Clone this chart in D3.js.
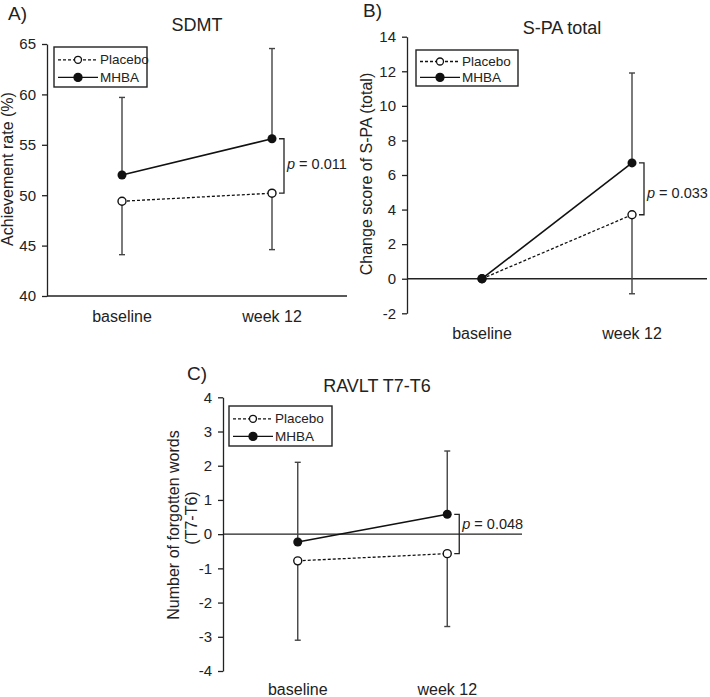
<!DOCTYPE html>
<html>
<head>
<meta charset="utf-8">
<script src="https://cdn.jsdelivr.net/npm/d3@7/dist/d3.min.js"></script>
<style>
  body { margin: 0; background: #fff; }
  svg text { font-family: "Liberation Sans", Arial, sans-serif; fill: #222; }
</style>
</head>
<body>
<div id="chart"></div>
<script>
// Time points shared by all three panels
const timepoints = ["baseline", "week 12"];
const seriesNames = ["Placebo", "MHBA"];

// A) SDMT achievement rate (%), mean and SD
const sdmtPlacebo = [49.4, 50.2];
const sdmtPlaceboSd = [5.3, 5.6];
const sdmtMhba = [52.0, 55.6];
const sdmtMhbaSd = [7.7, 8.95];
const sdmtTicks = [40, 45, 50, 55, 60, 65];

// B) S-PA total change score
const spaPlacebo = [0, 3.7];
const spaPlaceboSd = [0, 4.57];
const spaMhba = [0, 6.7];
const spaMhbaSd = [0, 5.2];
const spaTicks = [-2, 0, 2, 4, 6, 8, 10, 12, 14];

// C) RAVLT T7-T6 forgotten words
const ravltPlacebo = [-0.78, -0.57];
const ravltPlaceboSd = [2.32, 2.13];
const ravltMhba = [-0.23, 0.58];
const ravltMhbaSd = [2.33, 1.85];
const ravltTicks = [-4, -3, -2, -1, 0, 1, 2, 3, 4];

const pLabels = ["0.011", "0.033", "0.048"];

const width = 710, height = 697;

const svg = d3.select("#chart").append("svg")
    .attr("width", width)
    .attr("height", height);

// Draw one panel from a config (frame positions only, values come from arrays)
function drawPanel(cfg) {
    const g = svg.append("g");

    const x = d3.scalePoint()
        .domain(timepoints)
        .range([cfg.left, cfg.right])
        .padding(0.5);

    const y = d3.scaleLinear()
        .domain([cfg.ticks[0], cfg.ticks[cfg.ticks.length - 1]])
        .range([cfg.bottom, cfg.top]);

    // Y axis with outward ticks (plain hyphen for negatives, like the original)
    const yAxis = g.append("g")
        .attr("transform", `translate(${cfg.left},0)`)
        .call(d3.axisLeft(y).tickValues(cfg.ticks).tickSize(5).tickSizeOuter(0).tickPadding(6)
            .tickFormat(d => String(d)));
    yAxis.select(".domain").attr("stroke", "#222").attr("stroke-width", 1.3);
    yAxis.selectAll(".tick line").attr("stroke", "#222").attr("stroke-width", 1.3);
    yAxis.selectAll(".tick text")
        .attr("font-size", 15)
        .attr("font-family", "Liberation Sans, Arial, sans-serif")
        .attr("fill", "#222");

    // Horizontal reference line (bottom axis for A, zero line for B and C)
    const refValue = cfg.zeroLine ? 0 : cfg.ticks[0];
    g.append("line")
        .attr("x1", cfg.left).attr("x2", cfg.right)
        .attr("y1", y(refValue)).attr("y2", y(refValue))
        .attr("stroke", "#222").attr("stroke-width", 1.3);

    // Category labels
    g.selectAll(".xlab").data(timepoints).enter().append("text")
        .attr("x", d => x(d))
        .attr("y", cfg.xLabelY)
        .attr("text-anchor", "middle")
        .attr("font-size", 16)
        .text(d => d);

    // Error bars: MHBA upward, placebo downward
    const bars = [];
    timepoints.forEach((t, i) => {
        if (cfg.mhbaSd[i] > 0) bars.push({ t: t, from: cfg.mhba[i], to: cfg.mhba[i] + cfg.mhbaSd[i] });
        if (cfg.placeboSd[i] > 0) bars.push({ t: t, from: cfg.placebo[i], to: cfg.placebo[i] - cfg.placeboSd[i] });
    });
    g.selectAll(".err").data(bars).enter().append("line")
        .attr("x1", d => x(d.t)).attr("x2", d => x(d.t))
        .attr("y1", d => y(d.from)).attr("y2", d => y(d.to))
        .attr("stroke", "#444").attr("stroke-width", 1.4);
    g.selectAll(".cap").data(bars).enter().append("line")
        .attr("x1", d => x(d.t) - 3).attr("x2", d => x(d.t) + 3)
        .attr("y1", d => y(d.to)).attr("y2", d => y(d.to))
        .attr("stroke", "#444").attr("stroke-width", 1.4);

    const line = d3.line().x((d, i) => x(timepoints[i])).y(d => y(d));

    // Placebo dashed, MHBA solid
    g.append("path").datum(cfg.placebo)
        .attr("d", line).attr("fill", "none")
        .attr("stroke", "#111").attr("stroke-width", 1.3).attr("stroke-dasharray", "3,2");
    g.append("path").datum(cfg.mhba)
        .attr("d", line).attr("fill", "none")
        .attr("stroke", "#111").attr("stroke-width", 1.6);

    g.selectAll(".pp").data(cfg.placebo).enter().append("circle")
        .attr("cx", (d, i) => x(timepoints[i])).attr("cy", d => y(d))
        .attr("r", 4).attr("fill", "#fff").attr("stroke", "#111").attr("stroke-width", 1.4);
    g.selectAll(".mp").data(cfg.mhba).enter().append("circle")
        .attr("cx", (d, i) => x(timepoints[i])).attr("cy", d => y(d))
        .attr("r", 4.5).attr("fill", "#111");

    // Significance bracket at week 12
    const wx = x(timepoints[1]);
    const yTop = y(cfg.mhba[1]), yBot = y(cfg.placebo[1]);
    g.append("path")
        .attr("d", `M${wx + 7},${yTop} H${wx + 12} V${yBot} H${wx + 7}`)
        .attr("fill", "none").attr("stroke", "#222").attr("stroke-width", 1.3);
    const pt = g.append("text")
        .attr("x", wx + 15)
        .attr("y", (yTop + yBot) / 2 + cfg.pShift)
        .attr("font-size", 14.5);
    pt.append("tspan").attr("font-style", "italic").text("p");
    pt.append("tspan").text(" = " + cfg.p);

    // Title and panel letter
    g.append("text")
        .attr("x", cfg.titleX).attr("y", cfg.titleY)
        .attr("text-anchor", "middle").attr("font-size", 18)
        .text(cfg.title);
    g.append("text")
        .attr("x", cfg.letterX).attr("y", cfg.letterY)
        .attr("font-size", 19)
        .text(cfg.letter);

    // Y axis label (one or more lines)
    cfg.yLabel.forEach((txt, i) => {
        g.append("text")
            .attr("transform", `translate(${cfg.yLabelX[i]},${cfg.yLabelY[i]}) rotate(-90)`)
            .attr("text-anchor", "middle").attr("font-size", 16)
            .text(txt);
    });

    // Legend box
    const lg = g.append("g").attr("transform", `translate(${cfg.legX},${cfg.legY})`);
    lg.append("rect")
        .attr("width", cfg.legW).attr("height", cfg.legH)
        .attr("fill", "#fff").attr("stroke", "#222").attr("stroke-width", 1.4);
    seriesNames.forEach((name, i) => {
        const ry = cfg.legH * (i === 0 ? 0.32 : 0.76);
        lg.append("line")
            .attr("x1", 4).attr("x2", 44).attr("y1", ry).attr("y2", ry)
            .attr("stroke", "#111").attr("stroke-width", 1.3)
            .attr("stroke-dasharray", i === 0 ? "3,2" : null);
        lg.append("circle")
            .attr("cx", 24).attr("cy", ry)
            .attr("r", i === 0 ? 3.5 : 4)
            .attr("fill", i === 0 ? "#fff" : "#111")
            .attr("stroke", "#111").attr("stroke-width", 1.3);
        lg.append("text")
            .attr("x", 46).attr("y", ry + 4.5)
            .attr("font-size", 13.5)
            .text(name);
    });
}

drawPanel({
    letter: "A)", letterX: 8, letterY: 20,
    title: "SDMT", titleX: 197, titleY: 31,
    left: 47, right: 347, top: 44, bottom: 296,
    ticks: sdmtTicks, zeroLine: false, xLabelY: 322,
    placebo: sdmtPlacebo, placeboSd: sdmtPlaceboSd,
    mhba: sdmtMhba, mhbaSd: sdmtMhbaSd, p: pLabels[0], pShift: 3,
    yLabel: ["Achievement rate (%)"], yLabelX: [13], yLabelY: [169],
    legX: 54, legY: 47, legW: 93, legH: 40
});

drawPanel({
    letter: "B)", letterX: 363, letterY: 17,
    title: "S-PA total", titleX: 562, titleY: 34,
    left: 407, right: 707, top: 36.7, bottom: 313.3,
    ticks: spaTicks, zeroLine: true, xLabelY: 339,
    placebo: spaPlacebo, placeboSd: spaPlaceboSd,
    mhba: spaMhba, mhbaSd: spaMhbaSd, p: pLabels[1], pShift: 9,
    yLabel: ["Change score of S-PA (total)"], yLabelX: [372], yLabelY: [174],
    legX: 416, legY: 50, legW: 102, legH: 36
});

drawPanel({
    letter: "C)", letterX: 187, letterY: 380,
    title: "RAVLT T7-T6", titleX: 377, titleY: 392,
    left: 223, right: 522, top: 397.3, bottom: 671,
    ticks: ravltTicks, zeroLine: true, xLabelY: 695,
    placebo: ravltPlacebo, placeboSd: ravltPlaceboSd,
    mhba: ravltMhba, mhbaSd: ravltMhbaSd, p: pLabels[2], pShift: -5,
    yLabel: ["Number of forgotten words", "(T7-T6)"], yLabelX: [179, 197], yLabelY: [525, 518],
    legX: 229, legY: 406, legW: 103, legH: 40
});
</script>
</body>
</html>
